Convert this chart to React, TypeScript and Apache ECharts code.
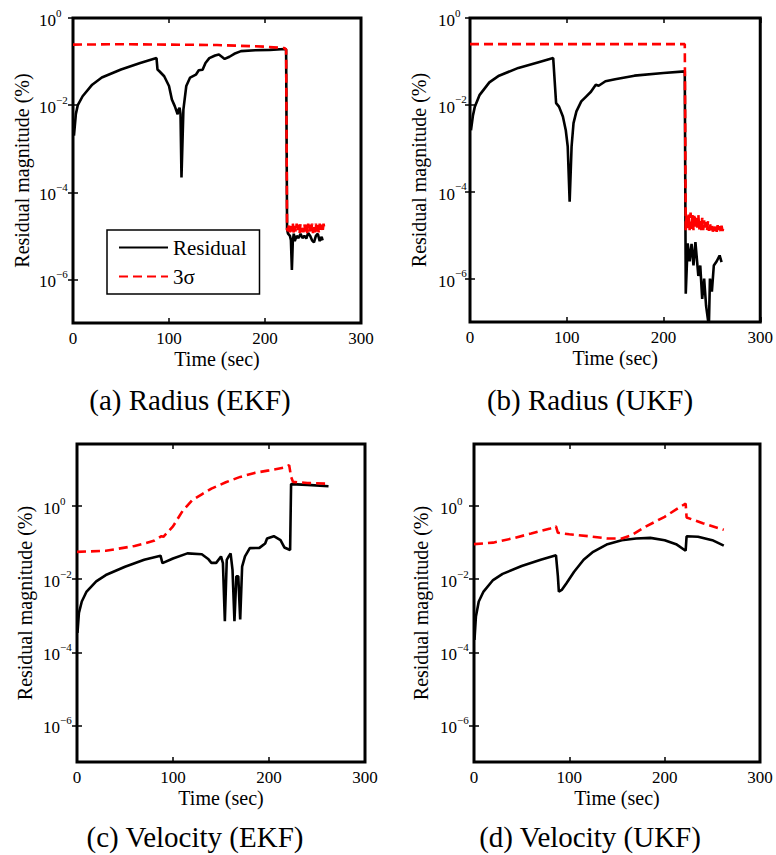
import React, { useEffect, useRef } from 'react';
import * as echarts from 'echarts';

const FONT = "'Times New Roman', 'Liberation Serif', 'DejaVu Serif', serif";

// x-axis tick values (seconds)
const xTicks = [0, 100, 200, 300];
// y-axis labelled ticks (log scale)
const yTicks = [1, 1e-2, 1e-4, 1e-6];

const legendNames = ['Residual', '3σ'];
const captions = ['(a) Radius (EKF)', '(b) Radius (UKF)', '(c) Velocity (EKF)', '(d) Velocity (UKF)'];

// (a) Radius EKF
const radiusEkfResidual: [number, number][] = [
  [1, 2.0e-3], [3, 6.3e-3], [5, 1.0e-2], [10, 1.6e-2], [20, 2.95e-2], [30, 4.3e-2], [50, 6.6e-2],
  [70, 9.3e-2], [87, 0.12], [88, 6.6e-2], [90, 6.0e-2], [95, 4.6e-2], [100, 2.75e-2], [103, 1.35e-2],
  [106, 9.5e-3], [109, 6.2e-3], [110, 7.9e-3], [111, 8.7e-3], [112, 6.3e-3], [113, 2.2e-4], [115, 7.9e-3],
  [118, 2.75e-2], [122, 4.3e-2], [128, 5.0e-2], [131, 6.3e-2], [135, 6.5e-2], [138, 9.3e-2], [142, 0.12],
  [148, 0.138], [152, 0.145], [158, 0.115], [163, 0.129], [168, 0.151], [175, 0.174], [190, 0.182],
  [205, 0.186], [221, 0.195], [222, 0.19], [223, 1.4e-5], [224, 1.12e-5], [226, 1.0e-5], [227, 7.9e-6],
  [228, 1.66e-6], [229, 7.9e-6], [230, 1.12e-5], [231, 7.6e-6], [233, 1.0e-5], [235, 8.9e-6], [237, 1.12e-5],
  [239, 8.9e-6], [241, 1.0e-5], [243, 8.7e-6], [245, 1.17e-5], [247, 1.0e-5], [249, 7.9e-6], [251, 7.1e-6],
  [253, 1.0e-5], [255, 1.12e-5], [257, 7.6e-6], [259, 9.5e-6], [260, 7.9e-6],
];
const radiusEkfSigma: [number, number][] = [
  [0, 0.245], [50, 0.25], [100, 0.245], [150, 0.24], [200, 0.22], [220, 0.204], [222, 0.19], [223, 1.4e-5],
  [224, 1.3e-5], [225, 1.9e-5], [226, 1.2e-5], [227, 1.8e-5], [228, 1.25e-5], [229, 1.9e-5], [230, 1.15e-5],
  [231, 1.7e-5], [232, 1.2e-5], [233, 1.9e-5], [234, 1.25e-5], [235, 1.8e-5], [236, 1.15e-5], [237, 1.9e-5],
  [238, 1.2e-5], [239, 1.75e-5], [240, 1.2e-5], [241, 1.9e-5], [242, 1.25e-5], [243, 1.8e-5], [244, 1.15e-5],
  [245, 1.9e-5], [246, 1.2e-5], [247, 1.8e-5], [248, 1.25e-5], [249, 1.9e-5], [250, 1.15e-5], [251, 1.8e-5],
  [252, 1.2e-5], [253, 1.9e-5], [254, 1.25e-5], [255, 1.75e-5], [256, 1.2e-5], [257, 1.9e-5], [258, 1.2e-5],
  [259, 1.8e-5], [260, 1.25e-5], [261, 1.9e-5], [262, 1.4e-5],
];

// (b) Radius UKF
const radiusUkfResidual: [number, number][] = [
  [1, 2.6e-3], [3, 5.6e-3], [5, 9.1e-3], [10, 1.7e-2], [20, 3.3e-2], [30, 4.7e-2], [50, 7.1e-2], [70, 9.5e-2],
  [86, 0.12], [89, 1.1e-2], [92, 9.1e-3], [96, 5.4e-3], [99, 2.6e-3], [101, 1.1e-3], [103, 5.9e-5],
  [105, 1.1e-3], [107, 3.8e-3], [110, 7.1e-3], [115, 1.2e-2], [120, 1.55e-2], [125, 2.0e-2], [130, 2.9e-2],
  [133, 2.75e-2], [140, 3.5e-2], [150, 3.9e-2], [170, 4.7e-2], [200, 5.4e-2], [222, 5.9e-2], [223, 4.5e-7],
  [225, 6.5e-6], [227, 2.5e-6], [229, 6.3e-6], [231, 2.0e-6], [233, 6.9e-6], [236, 1.15e-6], [238, 2.0e-6],
  [240, 3.4e-7], [242, 1.0e-6], [244, 2.4e-7], [246, 1.1e-7], [247, 1.0e-7], [248, 1.0e-6], [250, 5.0e-7],
  [252, 2.0e-6], [255, 2.5e-6], [258, 3.4e-6], [260, 2.4e-6],
];
const radiusUkfSigma: [number, number][] = [
  [0, 0.25], [100, 0.25], [222, 0.25], [223, 1.3e-5], [224, 3.2e-5], [225, 1.4e-5], [226, 3.0e-5], [227, 1.3e-5],
  [228, 3.3e-5], [229, 1.4e-5], [230, 2.9e-5], [231, 1.3e-5], [232, 3.1e-5], [233, 1.4e-5], [234, 2.8e-5],
  [235, 1.3e-5], [236, 3.0e-5], [237, 1.35e-5], [238, 2.4e-5], [239, 1.3e-5], [240, 2.5e-5], [241, 1.3e-5],
  [242, 2.2e-5], [243, 1.3e-5], [244, 2.0e-5], [245, 1.3e-5], [246, 2.1e-5], [247, 1.25e-5], [248, 1.9e-5],
  [249, 1.3e-5], [250, 1.8e-5], [251, 1.2e-5], [252, 1.7e-5], [253, 1.25e-5], [254, 1.6e-5], [255, 1.2e-5],
  [256, 1.7e-5], [257, 1.25e-5], [258, 1.6e-5], [259, 1.2e-5], [260, 1.65e-5], [261, 1.25e-5], [262, 1.5e-5],
];

// (c) Velocity EKF
const velocityEkfResidual: [number, number][] = [
  [0.5, 3.4e-4], [2, 1.2e-3], [5, 2.45e-3], [10, 4.6e-3], [20, 8.7e-3], [30, 1.3e-2], [50, 2.2e-2],
  [70, 3.4e-2], [87, 4.4e-2], [89, 2.75e-2], [100, 3.7e-2], [115, 5.1e-2], [130, 4.8e-2], [137, 3.5e-2],
  [140, 2.8e-2], [145, 2.8e-2], [150, 4.2e-2], [152, 2.75e-2], [154, 7.1e-4], [156, 3.4e-2], [158, 4.2e-2],
  [160, 5.1e-2], [162, 1.8e-2], [164, 7.1e-4], [166, 1.2e-2], [168, 1.2e-2], [170, 7.9e-4], [172, 2.2e-2],
  [175, 4.2e-2], [180, 7.1e-2], [190, 7.2e-2], [196, 9.5e-2], [198, 0.13], [205, 0.15], [212, 0.117],
  [216, 7.4e-2], [222, 6.3e-2], [223, 4.0], [240, 3.8], [262, 3.5],
];
const velocityEkfSigma: [number, number][] = [
  [0, 5.6e-2], [30, 6.0e-2], [60, 8.1e-2], [80, 0.112], [88, 0.15], [90, 0.145], [100, 0.28], [110, 0.74],
  [120, 1.45], [130, 2.1], [140, 3.0], [155, 4.5], [170, 6.3], [185, 8.1], [200, 9.5], [215, 11.2],
  [221, 13.2], [223, 6.3], [225, 4.6], [240, 4.3], [262, 4.1],
];

// (d) Velocity UKF
const velocityUkfResidual: [number, number][] = [
  [0.5, 2.2e-4], [2, 9.5e-4], [5, 2.45e-3], [10, 4.6e-3], [20, 9.5e-3], [30, 1.4e-2], [50, 2.3e-2],
  [70, 3.4e-2], [86, 4.5e-2], [88, 1.2e-2], [89, 4.6e-3], [92, 5.1e-3], [97, 7.8e-3], [105, 1.6e-2],
  [115, 3.4e-2], [125, 5.6e-2], [140, 9.1e-2], [155, 0.117], [170, 0.13], [185, 0.135], [200, 0.117],
  [212, 9.1e-2], [222, 6.0e-2], [223, 0.15], [235, 0.145], [250, 0.117], [262, 8.3e-2],
];
const velocityUkfSigma: [number, number][] = [
  [0, 9.1e-2], [20, 0.1], [40, 0.13], [60, 0.178], [80, 0.245], [86, 0.28], [88, 0.186], [100, 0.17],
  [120, 0.15], [140, 0.13], [155, 0.13], [165, 0.158], [180, 0.275], [200, 0.51], [215, 0.91], [222, 1.17],
  [223, 0.49], [240, 0.34], [262, 0.224],
];

const panels = [
  { grid: { left: 73, top: 18, width: 288, height: 305 }, yMax: 1, res: radiusEkfResidual, sig: radiusEkfSigma, labelMargin: 34, nameGap: 41, cx: 190, cy: 400 },
  { grid: { left: 470, top: 18, width: 295, height: 304 }, yMax: 1, res: radiusUkfResidual, sig: radiusUkfSigma, labelMargin: 32, nameGap: 41, cx: 590, cy: 400 },
  { grid: { left: 77, top: 444, width: 288, height: 318 }, yMax: 50, res: velocityEkfResidual, sig: velocityEkfSigma, labelMargin: 34, nameGap: 42, cx: 195, cy: 837 },
  { grid: { left: 474, top: 444, width: 286, height: 318 }, yMax: 50, res: velocityUkfResidual, sig: velocityUkfSigma, labelMargin: 34, nameGap: 43, cx: 590, cy: 837 },
];

function yLabel(v: number): string {
  const e = Math.round(Math.log10(v));
  return e === 0 ? '{b|10}{s|0}' : `{b|10}{s|\u2212${-e}}`;
}

export default function App() {
  const ref = useRef<HTMLDivElement>(null);
  useEffect(() => {
    if (!ref.current) return;
    const chart = echarts.init(ref.current, undefined, { renderer: 'svg' });
    const tickStyle = { show: true, inside: true, length: 5, lineStyle: { color: '#000', width: 1.5 } };
    const xAxis: any[] = [];
    const yAxis: any[] = [];
    const series: any[] = [];
    panels.forEach((p, i) => {
      const xBase = {
        type: 'value', gridIndex: i, min: xTicks[0], max: xTicks[xTicks.length - 1], interval: 100,
        splitLine: { show: false }, axisLine: { show: false }, axisTick: tickStyle,
      };
      xAxis.push({
        ...xBase, position: 'bottom', name: 'Time (sec)', nameLocation: 'middle', nameGap: 26,
        nameTextStyle: { fontSize: 20, fontFamily: FONT, color: '#000' },
        axisLabel: { margin: 7, fontSize: 17, fontFamily: FONT, color: '#000' },
      });
      xAxis.push({ ...xBase, position: 'top', axisLabel: { show: false } });
      const yBase = {
        type: 'log', logBase: 10, gridIndex: i, min: 1e-7, max: p.yMax,
        splitLine: { show: false }, minorTick: { show: false }, axisLine: { show: false },
        axisTick: { ...tickStyle, customValues: yTicks },
      };
      yAxis.push({
        ...yBase, position: 'left', name: 'Residual magnitude (%)', nameLocation: 'middle', nameGap: p.nameGap,
        nameTextStyle: { fontSize: 20, fontFamily: FONT, color: '#000' },
        axisLabel: {
          customValues: yTicks, margin: p.labelMargin, align: 'left', formatter: yLabel,
          rich: {
            b: { fontSize: 17, fontFamily: FONT, color: '#000', lineHeight: 22, verticalAlign: 'bottom' },
            s: { fontSize: 11, fontFamily: FONT, color: '#000', lineHeight: 12, verticalAlign: 'top' },
          },
        },
      });
      yAxis.push({ ...yBase, position: 'right', axisLabel: { show: false } });
      series.push({
        name: legendNames[0], type: 'line', xAxisIndex: 2 * i, yAxisIndex: 2 * i, data: p.res,
        showSymbol: false, symbol: 'none', silent: true, z: 3,
        lineStyle: { color: '#000', width: 2.6 }, itemStyle: { color: '#000' },
      });
      series.push({
        name: legendNames[1], type: 'line', xAxisIndex: 2 * i, yAxisIndex: 2 * i, data: p.sig,
        showSymbol: false, symbol: 'none', silent: true, z: 4,
        lineStyle: { color: '#ff0000', width: 2.6, type: [9, 5] }, itemStyle: { color: '#ff0000' },
      });
    });
    chart.setOption({
      animation: false,
      backgroundColor: '#fff',
      textStyle: { fontFamily: FONT },
      grid: panels.map((p) => ({ ...p.grid, show: true, borderColor: '#000', borderWidth: 3, backgroundColor: '#fff' })),
      xAxis,
      yAxis,
      series,
      legend: {
        show: true, orient: 'vertical', left: 107, top: 230, data: legendNames, selectedMode: false,
        textStyle: { fontSize: 21, fontFamily: FONT, color: '#000' },
        borderColor: '#000', borderWidth: 1.5, backgroundColor: '#fff',
        padding: [7, 13, 7, 11], itemGap: 8, itemWidth: 49, itemHeight: 14,
        itemStyle: { opacity: 0 },
      },
      graphic: panels.map((p, i) => ({
        type: 'text', x: p.cx, y: p.cy,
        style: { text: captions[i], fontSize: 29, fontFamily: FONT, fill: '#000', align: 'center', verticalAlign: 'middle' },
      })),
    });
    return () => chart.dispose();
  }, []);
  return <div ref={ref} style={{ position: 'absolute', left: 0, top: 0, width: 776, height: 855 }} />;
}
